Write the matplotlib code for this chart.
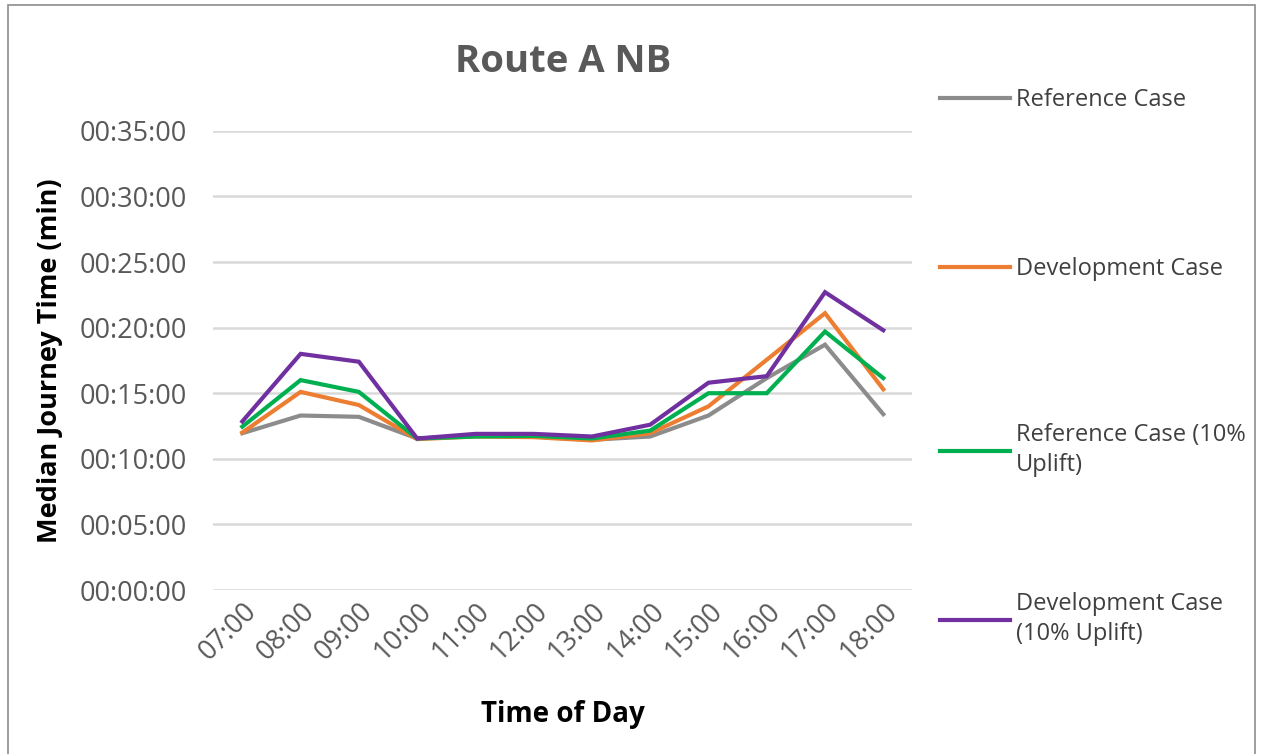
import matplotlib
matplotlib.use('Agg')
import matplotlib.pyplot as plt
from matplotlib.patches import Rectangle

plt.rcParams['font.family'] = ['Open Sans', 'DejaVu Sans']

horas = ['07:00', '08:00', '09:00', '10:00', '11:00', '12:00',
         '13:00', '14:00', '15:00', '16:00', '17:00', '18:00']

# tempos medianos em minutos
reference = [11.95, 13.3, 13.2, 11.55, 11.75, 11.7, 11.45, 11.7, 13.3, 16.15, 18.7, 13.4]
development = [12.0, 15.1, 14.1, 11.5, 11.7, 11.65, 11.4, 11.95, 14.0, 17.55, 21.1, 15.3]
reference_uplift = [12.45, 16.0, 15.1, 11.55, 11.7, 11.75, 11.55, 12.15, 15.0, 15.0, 19.7, 16.15]
development_uplift = [12.85, 18.0, 17.4, 11.55, 11.9, 11.9, 11.7, 12.6, 15.8, 16.3, 22.7, 19.8]

nomes = ['Reference Case', 'Development Case',
         'Reference Case (10%\nUplift)', 'Development Case\n(10% Uplift)']
cores = ['#8c8c8c', '#ED7D31', '#00B050', '#7030A0']
series = [reference, development, reference_uplift, development_uplift]

yticks = [0, 5, 10, 15, 20, 25, 30, 35]


def fmt_min(m, pos=None):
    seg = int(round(m * 60))
    return '%02d:%02d:%02d' % (seg // 3600, (seg % 3600) // 60, seg % 60)


fig = plt.figure(figsize=(12.69, 7.54), dpi=100)
ax = fig.add_axes([0.168, 0.2175, 0.551, 0.609])

x = list(range(len(horas)))
linhas = []
for s, c, n in zip(series, cores, nomes):
    l, = ax.plot(x, s, color=c, lw=3.0, label=n, solid_joinstyle='miter', zorder=3)
    linhas.append(l)

ax.set_xlim(-0.5, len(horas) - 0.5)
ax.set_ylim(0, 35)
ax.set_yticks(yticks)
ax.yaxis.set_major_formatter(plt.FuncFormatter(fmt_min))
ax.set_xticks(x)
ax.set_xticklabels(horas, rotation=45, ha='right', rotation_mode='anchor')
ax.grid(axis='y', color='#d9d9d9', lw=1.8, zorder=0)
for sp in ax.spines.values():
    sp.set_visible(False)
ax.tick_params(length=0, labelsize=19.5, labelcolor='#595959')
ax.tick_params(axis='y', pad=19)
ax.tick_params(axis='x', pad=5)

ax.set_title('Route A NB', fontsize=27.5, fontweight='bold', color='#595959', pad=42)
ax.set_xlabel('Time of Day', fontsize=20, fontweight='bold', labelpad=25)
ax.set_ylabel('Median Journey Time (min)', fontsize=19.5, fontweight='bold', labelpad=12)

# legenda espalhada como no Excel
centros = [0.867, 0.643, 0.403, 0.179]
for l, n, yc in zip(linhas, nomes, centros):
    leg = fig.legend([l], [n], loc='center left', bbox_to_anchor=(0.741, yc),
                     frameon=False, fontsize=17, handlelength=2.95, handletextpad=0.25,
                     borderaxespad=0, borderpad=0)
    for t in leg.get_texts():
        t.set_color('#404040')
        t.set_linespacing(1.3)

fig.patches.append(Rectangle((8 / 1269, -0.01), 1247 / 1269, 1 - 5 / 754 + 0.01,
                             transform=fig.transFigure, fill=False,
                             edgecolor='#8c8c8c', lw=1.2))

fig.savefig('out.png', dpi=100)
